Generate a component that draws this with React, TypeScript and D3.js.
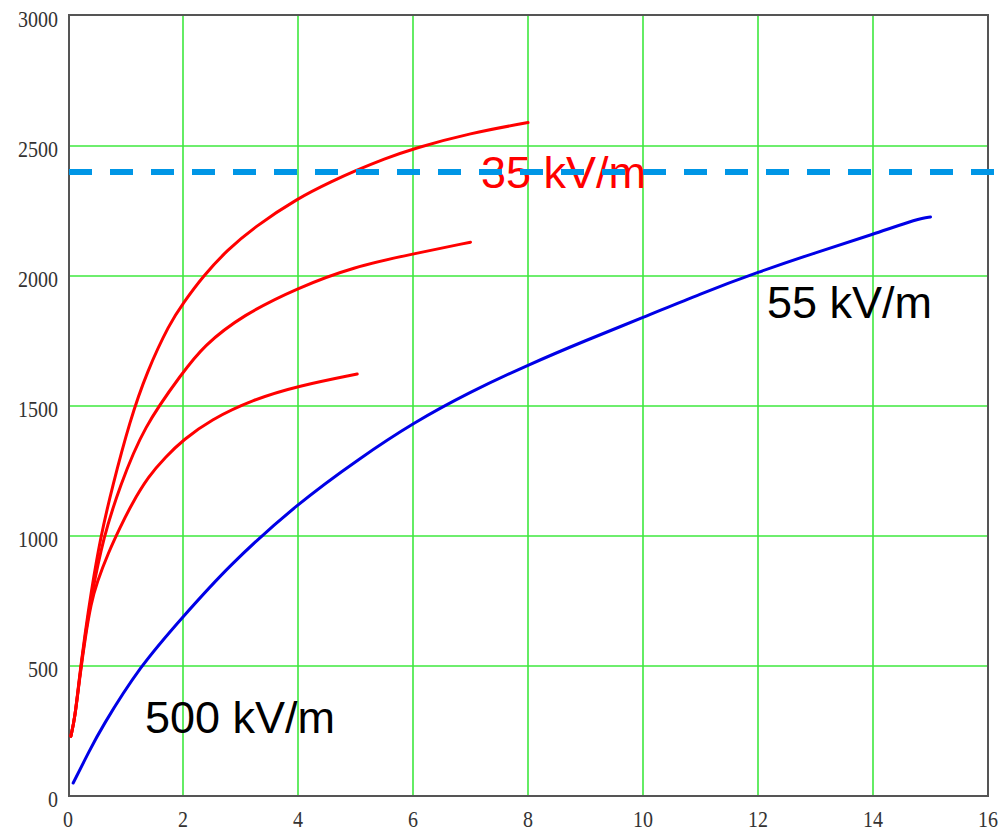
import React from 'react';
import * as d3 from 'd3';

// x in units of the horizontal axis, y in the vertical axis units
const xTicks = [0, 2, 4, 6, 8, 10, 12, 14, 16];
const yTicks = [0, 500, 1000, 1500, 2000, 2500, 3000];

const redTopX = [0.05, 0.12, 0.2, 0.3, 0.4, 0.56, 0.77, 1.08, 1.37, 1.77, 2, 2.35, 2.77, 3.22, 4, 4.6, 5, 5.5, 6, 7, 8];
const redTopY = [230, 300, 460, 630, 780, 990, 1189, 1446, 1631, 1819, 1895, 2000, 2100, 2185, 2300, 2365, 2405, 2450, 2490, 2550, 2590];

const redMidX = [0.05, 0.12, 0.2, 0.3, 0.4, 0.62, 0.9, 1.31, 2, 2.35, 3.04, 4, 4.96, 6, 7];
const redMidY = [230, 300, 455, 620, 760, 1000, 1189, 1419, 1630, 1730, 1850, 1955, 2035, 2085, 2130];

const redLowX = [0.05, 0.12, 0.2, 0.3, 0.4, 0.5, 0.7, 0.9, 1.1, 1.4, 1.7, 2, 2.47, 3.22, 4, 5.03];
const redLowY = [230, 300, 450, 610, 740, 820, 935, 1030, 1120, 1230, 1305, 1369, 1446, 1525, 1577, 1623];

const blueX = [0.09, 0.38, 0.56, 1.25, 2, 2.77, 4, 5.08, 6, 7, 8, 9, 10, 11, 12, 13, 14, 14.8, 15];
const blueY = [50, 177, 254, 500, 689, 881, 1127, 1300, 1435, 1555, 1658, 1752, 1840, 1932, 2015, 2090, 2160, 2222, 2227];

const threshold = 2400;

const labels = [
  { text: '35 kV/m', color: '#ff0000', x: 481, y: 188 },
  { text: '55 kV/m', color: '#000000', x: 767, y: 318 },
  { text: '500 kV/m', color: '#000000', x: 145, y: 733 },
];

const App = () => {
  const x = d3.scaleLinear().domain([0, 16]).range([68, 988]);
  const y = d3.scaleLinear().domain([0, 3000]).range([796, 16]);

  const line = (xs: number[], ys: number[]) =>
    d3
      .line<number>()
      .x((d, i) => x(xs[i]))
      .y((d) => y(d))
      .curve(d3.curveBasis)(ys) || '';

  const series = [
    { xs: redTopX, ys: redTopY, color: '#ff0000' },
    { xs: redMidX, ys: redMidY, color: '#ff0000' },
    { xs: redLowX, ys: redLowY, color: '#ff0000' },
    { xs: blueX, ys: blueY, color: '#0000e6' },
  ];

  const serif = "'Liberation Serif', 'DejaVu Serif', serif";

  return (
    <svg
      width={1007}
      height={832}
      style={{ position: 'absolute', left: 0, top: 0, background: '#fff' }}
    >
      {/* grid */}
      {xTicks.slice(1, -1).map((t) => (
        <line key={'gx' + t} x1={x(t)} x2={x(t)} y1={y(0)} y2={y(3000)} stroke="#3ee83e" strokeWidth={1.6} />
      ))}
      {yTicks.slice(1, -1).map((t) => (
        <line key={'gy' + t} x1={x(0)} x2={x(16)} y1={y(t)} y2={y(t)} stroke="#3ee83e" strokeWidth={1.6} />
      ))}

      {/* frame */}
      <rect
        x={x(0) + 1}
        y={y(3000) - 1}
        width={x(16) - x(0) - 1}
        height={y(0) - y(3000) + 1}
        fill="none"
        stroke="#555"
        strokeWidth={2}
      />

      {/* tick labels (digits look stretched vertically in the original) */}
      {yTicks.map((t) => (
        <text
          key={'ly' + t}
          transform={`translate(58,${y(t) + 11}) scale(1,1.2)`}
          textAnchor="end"
          fontFamily={serif}
          fontSize={20}
          fill="#333"
        >
          {t}
        </text>
      ))}
      {xTicks.map((t) => (
        <text
          key={'lx' + t}
          transform={`translate(${x(t)},827) scale(1,1.2)`}
          textAnchor="middle"
          fontFamily={serif}
          fontSize={20}
          fill="#333"
        >
          {t}
        </text>
      ))}

      {/* curves */}
      {series.map((s, i) => (
        <path key={'s' + i} d={line(s.xs, s.ys)} fill="none" stroke={s.color} strokeWidth={3} strokeLinejoin="round" strokeLinecap="round" />
      ))}

      {/* annotations */}
      {labels.map((l) => (
        <text key={l.text} x={l.x} y={l.y} fill={l.color} fontFamily="'Liberation Sans', Arial, sans-serif" fontSize={45}>
          {l.text}
        </text>
      ))}

      {/* threshold line */}
      <line
        x1={x(0) + 1}
        x2={1000}
        y1={y(threshold)}
        y2={y(threshold)}
        stroke="#0096e6"
        strokeWidth={6}
        strokeDasharray="23 18"
      />
    </svg>
  );
};

export default App;
